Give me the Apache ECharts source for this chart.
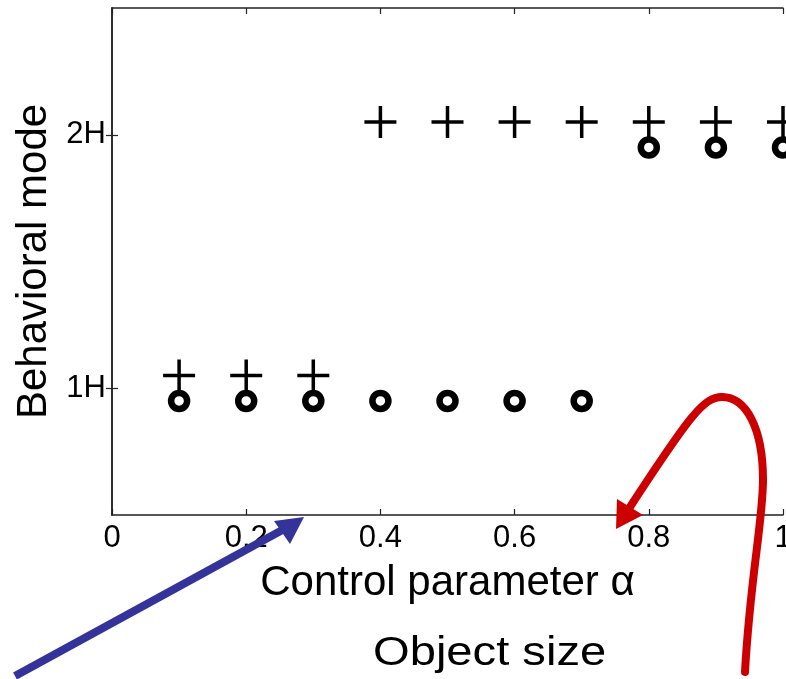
<!DOCTYPE html>
<html>
<head>
<meta charset="utf-8">
<script src="https://cdn.jsdelivr.net/npm/echarts@6/dist/echarts.min.js"></script>
<style>html,body{margin:0;padding:0;background:#fff}#c{width:786px;height:679px}</style>
</head>
<body>
<div id="c"></div>
<script>
// ---- data ----
var plusX = [0.1, 0.2, 0.3, 0.4, 0.5, 0.6, 0.7, 0.8, 0.9, 1.0];
var plusY = [1.05, 1.05, 1.05, 2.05, 2.05, 2.05, 2.05, 2.05, 2.05, 2.05];
var circX = [0.1, 0.2, 0.3, 0.4, 0.5, 0.6, 0.7, 0.8, 0.9, 1.0];
var circY = [0.95, 0.95, 0.95, 0.95, 0.95, 0.95, 0.95, 1.95, 1.95, 1.95];
var xTicks = [0, 0.2, 0.4, 0.6, 0.8, 1];
var xTickLabels = ['0', '0.2', '0.4', '0.6', '0.8', '1'];
var yTicks = [1, 2];
var yTickLabels = ['1H', '2H'];
var xTitle = 'Control parameter \u03b1';
var yTitle = 'Behavioral mode';
var noteText = 'Object size';

function zip(a, b) { return a.map(function (v, i) { return [v, b[i]]; }); }

var FONT = 'Liberation Sans, Arial, sans-serif';
var plusPath = 'path://M14.25,0 H17.75 V14.25 H32 V17.75 H17.75 V32 H14.25 V17.75 H0 V14.25 H14.25 Z';

var chart = echarts.init(document.getElementById('c'), null, {renderer: 'canvas'});
var axisLine = {show: true, lineStyle: {color: '#222', width: 1.5}};
var RED = '#cc0000', BLUE = '#333399';
function redSeg(x1, y1, cpx1, cpy1, cpx2, cpy2, x2, y2) {
  return {type: 'bezierCurve', z: 10,
    shape: {x1: x1, y1: y1, cpx1: cpx1, cpy1: cpy1, cpx2: cpx2, cpy2: cpy2, x2: x2, y2: y2},
    style: {fill: null, stroke: RED, lineWidth: 8, lineCap: 'round'}};
}
chart.setOption({
  animation: false,
  backgroundColor: '#fff',
  grid: {left: 112, right: 3, top: 8, bottom: 164, containLabel: false, outerBoundsMode: 'none'},
  xAxis: [{
    type: 'value', min: 0, max: 1, interval: 0.2,
    axisLine: axisLine,
    axisTick: {show: true, inside: true, length: 6, lineStyle: {color: '#222', width: 1.2}},
    axisLabel: {
      color: '#000', fontFamily: FONT, fontSize: 31, margin: 8,
      formatter: function (v) { var i = xTicks.findIndex(function (t) { return Math.abs(t - v) < 1e-9; }); return i >= 0 ? xTickLabels[i] : ''; },
      showMaxLabel: true, showMinLabel: true, hideOverlap: false
    },
    splitLine: {show: false},
    name: xTitle, nameLocation: 'middle', nameGap: 47,
    nameTextStyle: {color: '#000', fontFamily: FONT, fontSize: 42}
  }, {
    type: 'value', min: 0, max: 1, interval: 0.2, position: 'top',
    axisLine: axisLine,
    axisTick: {show: true, inside: true, length: 6, lineStyle: {color: '#222', width: 1.2}},
    axisLabel: {show: false}, splitLine: {show: false}
  }],
  yAxis: [{
    type: 'value', min: 0.5, max: 2.5,
    axisLine: axisLine,
    axisTick: {show: true, inside: true, length: 6, customValues: yTicks, lineStyle: {color: '#222', width: 1.2}},
    axisLabel: {
      color: '#000', fontFamily: FONT, fontSize: 31, margin: 6, customValues: yTicks,
      formatter: function (v) { var i = yTicks.indexOf(v); return i >= 0 ? yTickLabels[i] : ''; }
    },
    splitLine: {show: false},
    name: yTitle, nameLocation: 'middle', nameGap: 51, nameRotate: 90,
    nameTextStyle: {color: '#000', fontFamily: FONT, fontSize: 42}
  }, {
    type: 'value', min: 0.5, max: 2.5, position: 'right',
    axisLine: axisLine,
    axisTick: {show: true, inside: true, length: 6, customValues: yTicks, lineStyle: {color: '#222', width: 1.2}},
    axisLabel: {show: false}, splitLine: {show: false}
  }],
  series: [{
    type: 'scatter', xAxisIndex: 0, yAxisIndex: 0, clip: true,
    data: zip(plusX, plusY),
    symbol: plusPath, symbolSize: 32,
    itemStyle: {color: '#000', opacity: 1},
    z: 2
  }, {
    type: 'scatter', xAxisIndex: 0, yAxisIndex: 0, clip: true,
    data: zip(circX, circY),
    symbol: 'circle', symbolSize: 16,
    itemStyle: {color: '#fff', borderColor: '#000', borderWidth: 6.5, opacity: 1},
    z: 3
  }],
  graphic: [
    {type: 'text', x: 373, y: 633, z: 10, scaleX: 1.15,
     style: {text: noteText, font: '41px ' + FONT, fill: '#000'}},
    // blue arrow
    {type: 'line', z: 10, shape: {x1: 15, y1: 676, x2: 286, y2: 528},
     style: {stroke: BLUE, lineWidth: 8}},
    {type: 'polygon', z: 10, shape: {points: [[304, 517], [274, 521], [290, 544]]},
     style: {fill: BLUE}},
    // red curved arrow
    redSeg(745, 672, 750, 580, 763, 520, 763, 480),
    redSeg(763, 480, 763, 428, 746, 397, 722, 397),
    redSeg(722, 397, 704, 397, 690, 415, 630, 507),
    {type: 'polygon', z: 10, shape: {points: [[616, 529], [617, 499], [643, 515]]},
     style: {fill: RED}}
  ]
});
</script>
</body>
</html>
